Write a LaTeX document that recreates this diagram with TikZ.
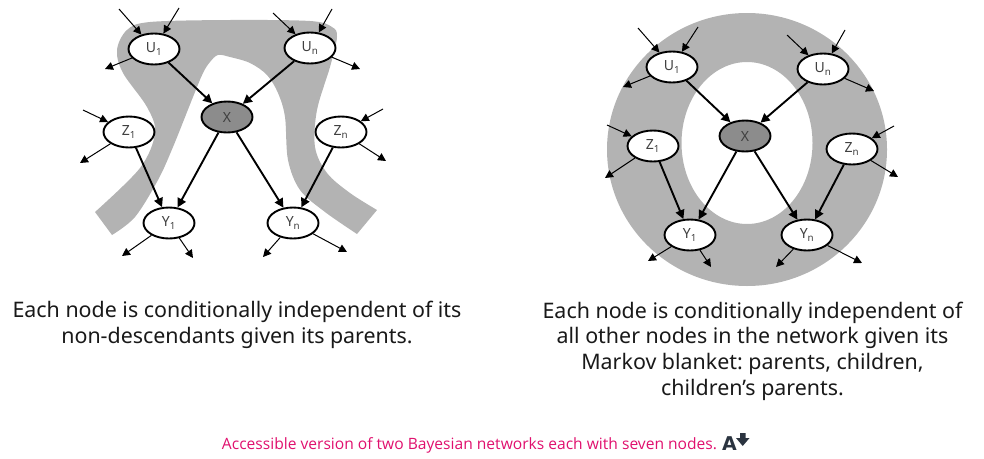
\documentclass[tikz,border=0pt]{standalone}
\usepackage{fontspec}
\setmainfont{Noto Sans}
\newfontfamily\capfont{Open Sans}
\newfontfamily\iconfont{DejaVu Sans}
\usetikzlibrary{shapes.geometric,arrows.meta}
\definecolor{blob}{HTML}{B3B3B3}
\definecolor{xfill}{HTML}{8C8C8C}
\definecolor{nodetext}{HTML}{404040}
\definecolor{captionpink}{HTML}{E0106E}
\definecolor{icondark}{HTML}{2B3440}
\tikzset{
  bnode/.style={ellipse,draw=black,line width=1.9pt,fill=white,minimum width=51pt,minimum height=31pt,inner sep=0pt,text=nodetext,font=\fontsize{14}{16}\selectfont},
  xnode/.style={bnode,fill=xfill},
  strong/.style={-{Triangle[length=9pt,width=9pt]},line width=1.9pt,black},
  weak/.style={-{Triangle[length=8pt,width=8pt]},line width=1pt,black},
  body/.style={font=\frenchspacing\fontsize{21.4}{25.6}\selectfont,align=center,text=black!90,inner sep=0pt},
}
\begin{document}
\begin{tikzpicture}[x=1pt,y=-1pt]
\useasboundingbox (0,0) rectangle (984,458);
% left blob
\fill[blob] plot[smooth,tension=0.55] coordinates {(95,212) (140,168) (155,133) (147,107) (123,73) (117,50) (127,30) (150,22) (230,20) (310,21) (332,27) (337,37) (330,67) (317,110) (315,147) (327,173) (350,193) (377,210)}
  -- plot[smooth,tension=0.55] coordinates {(357,234) (325,212) (300,190) (288,160) (285,117) (278,93) (267,75) (250,63) (230,57) (218,55) (210,62) (203,73) (193,97) (173,147) (158,180) (135,217) (112,235)} -- cycle;
% right ring
\fill[blob,even odd rule] (747,149.5) ellipse [x radius=140,y radius=136.5] (747,143) ellipse [x radius=65.5,y radius=81];
% left network
\node[bnode] (lu1) at (154,49) {U\textsubscript{1}};
\node[bnode] (lun) at (310,48) {U\textsubscript{n}};
\node[xnode] (lx) at (227,117) {X};
\node[bnode] (lz1) at (129,132) {Z\textsubscript{1}};
\node[bnode] (lzn) at (341,132) {Z\textsubscript{n}};
\node[bnode] (ly1) at (169,223) {Y\textsubscript{1}};
\node[bnode] (lyn) at (293,223) {Y\textsubscript{n}};
\coordinate (a1) at (119,9); \coordinate (a2) at (179,8); \coordinate (a3) at (105,69);
\coordinate (a4) at (273,13); \coordinate (a5) at (332,9); \coordinate (a6) at (360,69);
\coordinate (a7) at (83,110); \coordinate (a8) at (80,163);
\coordinate (a9) at (383,109); \coordinate (a10) at (386,161);
\coordinate (a11) at (122,256); \coordinate (a12) at (193,258);
\coordinate (a13) at (263,257); \coordinate (a14) at (347,252);
\draw[strong] (lu1) -- (lx);
\draw[strong] (lun) -- (lx);
\draw[strong] (lx) -- (ly1);
\draw[strong] (lx) -- (lyn);
\draw[strong] (lz1) -- (ly1);
\draw[strong] (lzn) -- (lyn);
\draw[weak] (a1) -- (lu1);
\draw[weak] (a2) -- (lu1);
\draw[weak] (lu1) -- (a3);
\draw[weak] (a4) -- (lun);
\draw[weak] (a5) -- (lun);
\draw[weak] (lun) -- (a6);
\draw[weak] (a7) -- (lz1);
\draw[weak] (lz1) -- (a8);
\draw[weak] (a9) -- (lzn);
\draw[weak] (lzn) -- (a10);
\draw[weak] (ly1) -- (a11);
\draw[weak] (ly1) -- (a12);
\draw[weak] (lyn) -- (a13);
\draw[weak] (lyn) -- (a14);
% right network
\node[bnode] (ru1) at (672,67) {U\textsubscript{1}};
\node[bnode] (run) at (823,69) {U\textsubscript{n}};
\node[xnode] (rx) at (745,136) {X};
\node[bnode] (rz1) at (653,146) {Z\textsubscript{1}};
\node[bnode] (rzn) at (852,149) {Z\textsubscript{n}};
\node[bnode] (ry1) at (690,235) {Y\textsubscript{1}};
\node[bnode] (ryn) at (807,235) {Y\textsubscript{n}};
\coordinate (b1) at (638,28); \coordinate (b2) at (698,27); \coordinate (b3) at (623,87);
\coordinate (b4) at (787,35); \coordinate (b5) at (845,30); \coordinate (b6) at (874,91);
\coordinate (b7) at (607,125); \coordinate (b8) at (605,178);
\coordinate (b9) at (894,126); \coordinate (b10) at (898,177);
\coordinate (b11) at (648,261); \coordinate (b12) at (711,267);
\coordinate (b13) at (776,267); \coordinate (b14) at (862,263);
\draw[strong] (ru1) -- (rx);
\draw[strong] (run) -- (rx);
\draw[strong] (rx) -- (ry1);
\draw[strong] (rx) -- (ryn);
\draw[strong] (rz1) -- (ry1);
\draw[strong] (rzn) -- (ryn);
\draw[weak] (b1) -- (ru1);
\draw[weak] (b2) -- (ru1);
\draw[weak] (ru1) -- (b3);
\draw[weak] (b4) -- (run);
\draw[weak] (b5) -- (run);
\draw[weak] (run) -- (b6);
\draw[weak] (b7) -- (rz1);
\draw[weak] (rz1) -- (b8);
\draw[weak] (b9) -- (rzn);
\draw[weak] (rzn) -- (b10);
\draw[weak] (ry1) -- (b11);
\draw[weak] (ry1) -- (b12);
\draw[weak] (ryn) -- (b13);
\draw[weak] (ryn) -- (b14);
% captions
\node[body] (leftcap) at (237,325) {Each node is conditionally independent of its\\non-descendants given its parents.};
\node[body] (rightcap) at (752.5,351) {Each node is conditionally independent of\\all other nodes in the network given its\\Markov blanket: parents, children,\\children’s parents.};
\node[font=\capfont\fontsize{15.6}{18}\selectfont,text=captionpink,inner sep=0pt] (access) at (469.5,445) {Accessible version of two Bayesian networks each with seven nodes.};
\node[font=\iconfont\fontsize{19}{20}\bfseries\selectfont,text=icondark,inner sep=0pt] (iconA) at (729.5,444) {A};
\fill[icondark] (740,433) -- (745.5,433) -- (745.5,438) -- (749.5,438) -- (742.75,446) -- (736,438) -- (740,438) -- cycle;
\end{tikzpicture}
\end{document}
